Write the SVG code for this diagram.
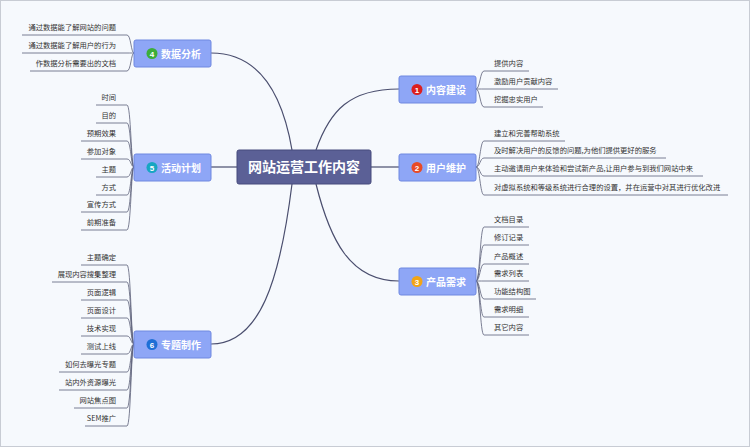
<svg xmlns="http://www.w3.org/2000/svg" width="750" height="447" viewBox="0 0 750 447">
<style>
.lf{font-family:"Noto Sans CJK SC","Liberation Sans",sans-serif;font-size:7.3px;fill:#333}
.bt{font-family:"Noto Sans CJK SC","Liberation Sans",sans-serif;font-size:10px;font-weight:bold;fill:#fff}
.bn{fill:#8ea6f6;stroke:#6f88e0;stroke-width:1}
.ul{fill:none;stroke:#5c6079;stroke-width:0.8}
.mc{fill:none;stroke:#4a4e6e;stroke-width:1.2}
.nb{font-family:"Liberation Sans",sans-serif;font-size:8px;font-weight:bold;fill:#fff;text-anchor:middle}
</style>
<rect x="0" y="0" width="750" height="447" fill="#f6f9fd"/>
<rect x="0.5" y="0.5" width="749" height="446" fill="none" stroke="#c8ccd4"/>
<g id="connectors">
<path class="mc" d="M292,150 C280,80 250,53 211,53"/>
<path class="mc" d="M237,167 L211,167"/>
<path class="mc" d="M292,184 C280,280 260,344 211,344"/>
<path class="mc" d="M316,150 C330,110 350,89 399,89"/>
<path class="mc" d="M371,167 L399,167"/>
<path class="mc" d="M316,184 C330,240 350,281 399,281"/>
<g class="ul">
<path d="M22,35 H127 C131,35 131,53 134,53"/>
<path d="M22,53 H127 C131,53 131,53 134,53"/>
<path d="M30,71 H127 C131,71 131,53 134,53"/>
<path d="M96,105 H127 C131,105 131,167 134,167"/>
<path d="M96,123 H127 C131,123 131,167 134,167"/>
<path d="M81,141 H127 C131,141 131,167 134,167"/>
<path d="M81,159 H127 C131,159 131,167 134,167"/>
<path d="M96,177 H127 C131,177 131,167 134,167"/>
<path d="M96,195 H127 C131,195 131,167 134,167"/>
<path d="M81,212 H127 C131,212 131,167 134,167"/>
<path d="M81,230 H127 C131,230 131,167 134,167"/>
<path d="M81,265 H127 C131,265 131,344 134,344"/>
<path d="M52,282 H127 C131,282 131,344 134,344"/>
<path d="M81,300 H127 C131,300 131,344 134,344"/>
<path d="M81,318 H127 C131,318 131,344 134,344"/>
<path d="M81,336 H127 C131,336 131,344 134,344"/>
<path d="M81,354 H127 C131,354 131,344 134,344"/>
<path d="M59,372 H127 C131,372 131,344 134,344"/>
<path d="M59,390 H127 C131,390 131,344 134,344"/>
<path d="M74,408 H127 C131,408 131,344 134,344"/>
<path d="M85,426 H127 C131,426 131,344 134,344"/>
<path d="M476,89 C480,89 480,71 484,71 H529"/>
<path d="M476,89 C480,89 480,89 484,89 H558"/>
<path d="M476,89 C480,89 480,107 484,107 H543"/>
<path d="M476,167 C480,167 480,141 484,141 H565"/>
<path d="M476,167 C480,167 480,158 484,158 H666"/>
<path d="M476,167 C480,167 480,176 484,176 H703"/>
<path d="M476,167 C480,167 480,195 484,195 H728"/>
<path d="M476,281 C480,281 480,227 484,227 H529"/>
<path d="M476,281 C480,281 480,245 484,245 H529"/>
<path d="M476,281 C480,281 480,264 484,264 H529"/>
<path d="M476,281 C480,281 480,281 484,281 H529"/>
<path d="M476,281 C480,281 480,299 484,299 H536"/>
<path d="M476,281 C480,281 480,317 484,317 H529"/>
<path d="M476,281 C480,281 480,335 484,335 H529"/>
</g>
</g>
<g id="center"><rect x="237" y="150" width="134" height="34" rx="2" fill="#5b6096" stroke="#474b7c"/><text x="304" y="172" text-anchor="middle" font-family="Noto Sans CJK SC,sans-serif" font-size="14" font-weight="bold" fill="#fff">网站运营工作内容</text></g>
<g id="n4"><rect class="bn" x="134" y="40" width="77" height="27" rx="2"/><circle cx="152" cy="53.5" r="5.5" fill="#3cae3a"/><text class="nb" x="152" y="56.5">4</text><text class="bt" x="161" y="57.5">数据分析</text></g>
<g id="n5"><rect class="bn" x="134" y="154" width="77" height="27" rx="2"/><circle cx="152" cy="167.5" r="5.5" fill="#17a6c2"/><text class="nb" x="152" y="170.5">5</text><text class="bt" x="161" y="171.5">活动计划</text></g>
<g id="n6"><rect class="bn" x="134" y="331" width="77" height="27" rx="2"/><circle cx="152" cy="344.5" r="5.5" fill="#1e6fd6"/><text class="nb" x="152" y="347.5">6</text><text class="bt" x="161" y="348.5">专题制作</text></g>
<g id="n1"><rect class="bn" x="399" y="76" width="77" height="27" rx="2"/><circle cx="417" cy="89.5" r="5.5" fill="#dc1f1f"/><text class="nb" x="417" y="92.5">1</text><text class="bt" x="426" y="93.5">内容建设</text></g>
<g id="n2"><rect class="bn" x="399" y="154" width="77" height="27" rx="2"/><circle cx="417" cy="167.5" r="5.5" fill="#e84a26"/><text class="nb" x="417" y="170.5">2</text><text class="bt" x="426" y="171.5">用户维护</text></g>
<g id="n3"><rect class="bn" x="399" y="268" width="77" height="27" rx="2"/><circle cx="417" cy="281.5" r="5.5" fill="#f2a516"/><text class="nb" x="417" y="284.5">3</text><text class="bt" x="426" y="285.5">产品需求</text></g>
<g id="leaves" class="lf">
<g text-anchor="end">
<text x="116" y="30">通过数据能了解网站的问题</text>
<text x="116" y="48">通过数据能了解用户的行为</text>
<text x="116" y="66">作数据分析需要出的文档</text>
<text x="116" y="100">时间</text>
<text x="116" y="118">目的</text>
<text x="116" y="136">预期效果</text>
<text x="116" y="154">参加对象</text>
<text x="116" y="172">主题</text>
<text x="116" y="190">方式</text>
<text x="116" y="207">宣传方式</text>
<text x="116" y="225">前期准备</text>
<text x="116" y="260">主题确定</text>
<text x="116" y="277">展现内容搜集整理</text>
<text x="116" y="295">页面逻辑</text>
<text x="116" y="313">页面设计</text>
<text x="116" y="331">技术实现</text>
<text x="116" y="349">测试上线</text>
<text x="116" y="367">如何去曝光专题</text>
<text x="116" y="385">站内外资源曝光</text>
<text x="116" y="403">网站焦点图</text>
<text x="116" y="421">SEM推广</text>
</g>
<text x="494" y="66">提供内容</text>
<text x="494" y="84">激励用户贡献内容</text>
<text x="494" y="102">挖掘忠实用户</text>
<text x="494" y="136">建立和完善帮助系统</text>
<text x="494" y="153">及时解决用户的反馈的问题,为他们提供更好的服务</text>
<text x="494" y="171">主动邀请用户来体验和尝试新产品,让用户参与到我们网站中来</text>
<text x="494" y="190">对虚拟系统和等级系统进行合理的设置，并在运营中对其进行优化改进</text>
<text x="494" y="222">文档目录</text>
<text x="494" y="240">修订记录</text>
<text x="494" y="259">产品概述</text>
<text x="494" y="276">需求列表</text>
<text x="494" y="294">功能结构图</text>
<text x="494" y="312">需求明细</text>
<text x="494" y="330">其它内容</text>
</g>
</svg>
